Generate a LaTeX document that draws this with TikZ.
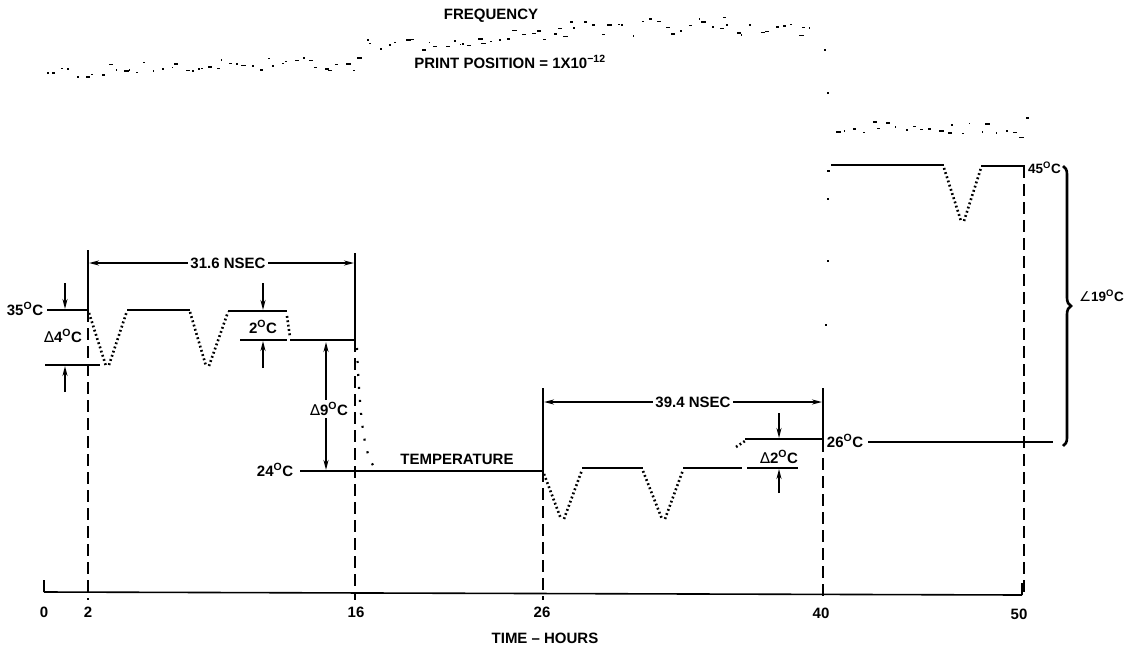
\documentclass[tikz,border=0pt]{standalone}
\usepackage{fontspec}
\setmainfont{Liberation Sans}
\newfontfamily\djv{DejaVu Sans}
\usetikzlibrary{arrows.meta,decorations.pathreplacing}
\newcommand{\dg}{\textsuperscript{O}}
\newcommand{\dlt}{{\djv\mdseries ∆}}
\newcommand{\freqtrace}[6]{%
  \foreach \i in {0,...,#5}{%
    \pgfmathsetmacro{\xx}{#1+(#3-#1)*\i/#5+3*rand}%
    \pgfmathsetmacro{\yy}{#2+(#4-#2)*\i/#5+#6*rand}%
    \pgfmathsetmacro{\ll}{1+4*rnd}%
    \fill (\xx,\yy) rectangle ++(\ll,1.6);%
  }}
\begin{document}
\begin{tikzpicture}[x=1pt,y=-1pt,
  lbl/.style={font=\fontsize{15}{16}\selectfont\bfseries, inner sep=1pt},
  lbls/.style={font=\fontsize{13.5}{14}\selectfont\bfseries, inner sep=1pt},
  lblw/.style={lbl, fill=white, inner sep=2.5pt},
  solidl/.style={line width=2.6pt},
  thinl/.style={line width=1.6pt},
  dashv/.style={line width=1.6pt, dash pattern=on 12pt off 6pt},
  dotl/.style={line width=2.6pt, dash pattern=on 1.8pt off 2.6pt},
  sparse/.style={line width=2.2pt, dash pattern=on 2pt off 11pt},
  dimarr/.style={line width=1.6pt, -{Stealth[length=10pt,width=5pt]}},
  dimarrb/.style={line width=1.6pt, {Stealth[length=10pt,width=5pt]}-{Stealth[length=10pt,width=5pt]}},
]
\useasboundingbox (0,0) rectangle (1127,648);
\pgfmathsetseed{11}

% ---------------- frequency trace
\freqtrace{45}{72}{200}{64}{20}{7}
\freqtrace{200}{64}{360}{64}{22}{7}
\freqtrace{364}{46}{460}{42}{12}{7}
\freqtrace{460}{40}{560}{32}{13}{7}
\freqtrace{560}{30}{720}{22}{20}{10}
\freqtrace{720}{26}{812}{32}{12}{7}
\fill (824,49) rectangle ++(2,2);
\fill (827,92) rectangle ++(2,2);
\freqtrace{838}{126}{1020}{132}{22}{8}
\fill (1026,117) rectangle ++(3,2);

\node[lbl] (freq) at (491,16) {FREQUENCY};
\node[lbl] (print) at (510,62) {PRINT POSITION = 1X10\textsuperscript{−12}};

% ---------------- time lines (verticals)
\coordinate (t2top) at (88,250);
\coordinate (t16top) at (355,253);
\coordinate (t26top) at (543,388);
\coordinate (t40top) at (823,388);
\draw[thinl] (t2top) -- (88,310);
\draw[dashv] (88,310) -- (88,600);
\draw[thinl] (t16top) -- (355,340);
\draw[dashv] (355,340) -- (355,600);
\draw[thinl] (t26top) -- (543,470);
\draw[dashv] (543,470) -- (543,600);
\draw[thinl] (t40top) -- (823,440);
\draw[dashv] (823,440) -- (823,600);
\draw[dashv] (1024,166) -- (1024,594);

% ---------------- axis
\coordinate (ax0) at (44,592);
\coordinate (ax50) at (1022,595);
\draw[thinl] (ax0) -- (ax50);
\draw[thinl] (44,580) -- (ax0);
\draw[thinl] (1022,583) -- (ax50);
\node[lbl] (l0) at (44,612) {0};
\node[lbl] (l2) at (88,612) {2};
\node[lbl] (l16) at (356,612) {16};
\node[lbl] (l26) at (542,612) {26};
\node[lbl] (l40) at (821,613) {40};
\node[lbl] (l50) at (1019,614) {50};
\node[lbl] (time) at (545,638) {TIME -- HOURS};

% ---------------- temperature trace
\draw[solidl] (47,310) -- (88,310);
\draw[dotl] (89,313) -- (106,366);
\draw[dotl] (109,365) -- (127,311);
\draw[solidl] (127,310) -- (190,310);
\draw[dotl] (190,312) -- (206,366);
\draw[dotl] (209,366) -- (228,312);
\draw[solidl] (228,311) -- (287,311);
\draw[dotl] (287,316) -- (290,337);
\draw[solidl] (290,340) -- (355,340);
\draw[sparse] (357,348) .. controls (360,420) and (364,455) .. (375,468);
\draw[solidl] (300,471) -- (543,471);
\draw[dotl] (544,474) -- (561,519);
\draw[dotl] (564,519) -- (582,470);
\draw[solidl] (582,468) -- (643,468);
\draw[dotl] (643,471) -- (662,519);
\draw[dotl] (665,519) -- (683,470);
\draw[solidl] (683,468) -- (742,468);
\draw[thinl] (747,468) -- (798,468);
\draw[dotl] (736,447) -- (745,441);
\draw[solidl] (745,439) -- (823,439);
\draw[solidl] (868,442) -- (1053,442);
\fill (827,170) rectangle ++(3,2);
\fill (827,198) rectangle ++(2,2);
\fill (827,260) rectangle ++(2,2);
\fill (825,324) rectangle ++(2,2);
\draw[solidl] (831,165) -- (944,165);
\draw[dotl] (944,168) -- (961,221);
\draw[dotl] (964,221) -- (981,168);
\draw[solidl] (981,166) -- (1025,166);

% ---------------- dimensions
\draw[thinl] (45,365) -- (100,365);
\draw[dimarr] (65,283) -- (65,309);
\draw[dimarr] (65,392) -- (65,366);
\draw[thinl] (240,340) -- (287,340);
\draw[dimarr] (263,283) -- (263,310);
\draw[dimarr] (263,368) -- (263,341);
\draw[dimarrb] (326,342) -- (326,470);
\draw[dimarr] (779,413) -- (779,438);
\draw[dimarr] (779,493) -- (779,469);
\draw[dimarrb] (89,263) -- (354,263);
\draw[dimarrb] (544,402) -- (822,402);
\draw[line width=2.6pt, decorate, decoration={brace, amplitude=8pt}] (1063,166) -- (1063,446);

% ---------------- labels
\node[lbl] (c35) at (25,309) {35\dg C};
\node[lbl] (d4) at (63,336) {\dlt4\dg C};
\node[lbl] (c2) at (263,327) {2\dg C};
\node[lblw] (n316) at (228,263) {31.6 NSEC};
\node[lblw] (d9) at (329,409) {\dlt9\dg C};
\node[lbl] (c24) at (275,470) {24\dg C};
\node[lbl] (temp) at (457,459) {TEMPERATURE};
\node[lblw] (n394) at (693,402) {39.4 NSEC};
\node[lbl] (d2) at (779,457) {\dlt2\dg C};
\node[lbl] (c26) at (845,441) {26\dg C};
\node[lbls, anchor=west] (c45) at (1027,168) {45\dg C};
\node[lbls, anchor=east] (c19) at (1125,296) {{\djv\mdseries ∠}19\dg C};
\end{tikzpicture}
\end{document}
